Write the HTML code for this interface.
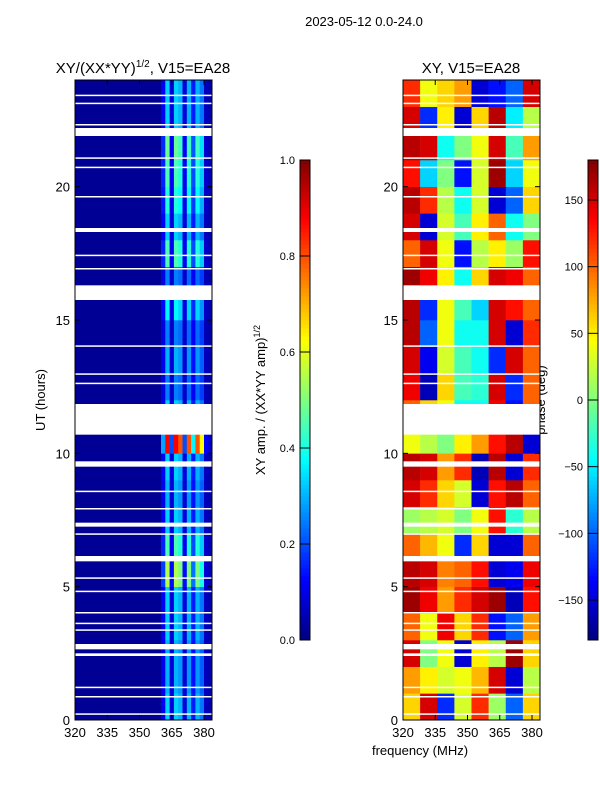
<!DOCTYPE html>
<html><head><meta charset="utf-8"><style>
html,body{margin:0;padding:0;background:#fff;}
svg{display:block;font-family:"Liberation Sans",sans-serif;}
</style></head><body>
<svg id="fig" width="600" height="800" viewBox="0 0 600 800" xmlns="http://www.w3.org/2000/svg">
<text x="364" y="26" font-size="13" text-anchor="middle">2023-05-12 0.0-24.0</text>
<text x="143" y="73" font-size="15" text-anchor="middle">XY/(XX*YY)<tspan font-size="10" dy="-6">1/2</tspan><tspan dy="6">, V15=EA28</tspan></text>
<text x="471" y="73" font-size="15" text-anchor="middle">XY, V15=EA28</text>
<text transform="translate(45,400) rotate(-90)" font-size="13" text-anchor="middle">UT (hours)</text>
<text x="420" y="755" font-size="13" text-anchor="middle">frequency (MHz)</text>
<text transform="translate(265,400) rotate(-90)" font-size="13" text-anchor="middle">XY amp. / (XX*YY amp)<tspan font-size="9" dy="-5">1/2</tspan></text>
<text transform="translate(545,400) rotate(-90)" font-size="13" text-anchor="middle">phase (deg)</text>
<g id="left"></g><g id="right"></g><g id="cb1"></g><g id="cb2"></g>
</svg>
<script>
// ---- data ----
const freqTicks=[320,335,350,365,380];
const timeTicks=[0,5,10,15,20];
const ampTicks=[0.0,0.2,0.4,0.6,0.8,1.0];
const phaseTicks=[-150,-100,-50,0,50,100,150];
// amplitude: per-hour level and per-2MHz column profile for 360-384 MHz
const ampColFreqs=[360,362,364,366,368,370,372,374,376,378,380,382];
const ampColProfile=[0.3,1.0,0.2,1.0,0.9,0.2,0.9,0.4,0.9,0.7,0.1,0.05];
const ampRowLevel=[0.3,0.27,0.27,0.3,0.3,0.52,0.42,0.3,0.27,0.3,0.85,0.3,0.22,0.27,0.22,0.34,0.22,0.42,0.3,0.38,0.42,0.45,0.3,0.3];
// phase grid: rows = hours 0..23, cols = 8 bins across 320-384 MHz
const phaseGrid=[
[60,150,-120,30,120,10,-100,60],
[80,50,30,40,70,150,-150,20],
[150,0,40,-150,50,20,170,60],
[100,40,140,60,120,-130,-100,80],
[170,140,80,120,150,170,-160,130],
[160,150,90,100,130,-150,-140,140],
[100,70,40,-120,60,-150,-150,100],
[10,20,30,0,40,130,-30,20],
[150,120,60,30,-150,130,160,100],
[160,150,80,120,-160,160,-150,120],
[40,20,0,50,80,130,160,-150],
[100,60,40,-40,-40,140,-130,100],
[140,-160,60,-20,-30,150,-120,100],
[150,-140,30,-20,-40,-120,150,100],
[160,-100,40,-40,-40,150,-150,120],
[160,-120,40,-20,-60,150,130,100],
[170,140,50,-40,60,150,140,100],
[100,150,40,-130,20,50,10,130],
[150,-150,30,-20,50,100,-40,0],
[160,120,20,-40,30,-150,-100,60],
[130,-60,0,-130,30,170,-60,40],
[160,150,-40,0,40,150,-20,80],
[150,-120,50,-150,60,160,-50,20],
[120,40,60,80,-150,-130,-100,150]];
// flagged (white) rows: [start hour, end hour]
const flagged=[[0.2,0.25],[0.85,0.9],[1.2,1.25],[2.4,2.5],[2.65,2.85],[3.35,3.4],[3.6,3.65],[4.0,4.05],[4.8,4.85],[5.3,5.35],[5.95,6.15],[6.95,7.0],[7.25,7.4],[7.9,7.95],[8.55,8.6],[9.5,9.7],[10.7,11.85],[12.6,12.65],[12.95,13.0],[14.0,14.05],[15.75,16.3],[16.9,16.95],[17.4,17.45],[18.3,18.45],[19.6,19.65],[20.7,20.75],[21.05,21.1],[21.9,22.2],[22.3,22.35],[23.1,23.15],[23.4,23.45]];
// ---- helpers ----
const NS="http://www.w3.org/2000/svg";
function mk(tag,attrs,parent){const e=document.createElementNS(NS,tag);for(const k in attrs)e.setAttribute(k,attrs[k]);parent.appendChild(e);return e;}
function jet(v){v=Math.max(0,Math.min(1,v));
 const r=Math.min(1,Math.max(0,1.5-Math.abs(4*v-3))),g=Math.min(1,Math.max(0,1.5-Math.abs(4*v-2))),b=Math.min(1,Math.max(0,1.5-Math.abs(4*v-1)));
 return `rgb(${Math.round(r*255)},${Math.round(g*255)},${Math.round(b*255)})`;}
const Y0=720,Y1=80,PW=137;
const yS=h=>Y0-(h/24)*(Y0-Y1);
function xS(x0){return f=>x0+(f-320)*(129/60);}
const FMAX=320+PW*60/129;
function axes(g,x0,name){
 const x=xS(x0);
 for(const f of freqTicks){
  const t=mk('line',{x1:x(f),x2:x(f),y1:Y0,y2:Y0-5,stroke:'#000'},g);
  
  mk('line',{x1:x(f),x2:x(f),y1:Y1,y2:Y1+5,stroke:'#000'},g);
  const l=mk('text',{x:x(f),y:Y0+17,'font-size':13,'text-anchor':'middle'},g);l.textContent=f;
  
 }
 for(const h of timeTicks){
  mk('line',{x1:x0,x2:x0+5,y1:yS(h),y2:yS(h),stroke:'#000'},g);
  mk('line',{x1:x0+PW,x2:x0+PW-5,y1:yS(h),y2:yS(h),stroke:'#000'},g);
  const l=mk('text',{x:x0-5,y:yS(h)+5,'font-size':13,'text-anchor':'end'},g);l.textContent=h;
  
 }
 const fr=mk('rect',{x:x0,y:Y1,width:PW,height:Y0-Y1,fill:'none',stroke:'#000','stroke-width':1},g);
 
}
function flags(g,x0){for(const [a,b] of flagged){const r=mk('rect',{x:x0,y:yS(b),width:PW,height:Math.max(1.5,yS(a)-yS(b)),fill:'#fff'},g);
 }}
// ---- left amplitude heatmap ----
(function(){
 const g=document.getElementById('left');
 const x=xS(75);
 const bg=mk('rect',{x:75,y:Y1,width:x(360)-75,height:Y0-Y1,fill:jet(0.02)},g);
 
 for(let h=0;h<ampRowLevel.length;h++){
  for(let c=0;c<ampColFreqs.length;c++){
   const f0=ampColFreqs[c],f1=Math.min(FMAX,f0+2);
   const v=0.03+ampRowLevel[h]*ampColProfile[c];
   const r=mk('rect',{x:x(f0),y:yS(h+1),width:x(f1)-x(f0)+0.3,height:yS(h)-yS(h+1)+0.3,fill:jet(v)},g);
   
  }
 }
 flags(g,75);axes(g,75,'left');
})();
// ---- right phase heatmap ----
(function(){
 const g=document.getElementById('right');
 const x=xS(403);const nc=phaseGrid[0].length,bw=(FMAX-320)/nc;
 for(let h=0;h<phaseGrid.length;h++)for(let c=0;c<nc;c++){
  const f0=320+c*bw;
  const r=mk('rect',{x:x(f0),y:yS(h+1),width:x(f0+bw)-x(f0)+0.3,height:yS(h)-yS(h+1)+0.3,fill:jet((phaseGrid[h][c]+180)/360)},g);
  
 }
 flags(g,403);axes(g,403,'right');
})();
// ---- colorbars ----
function colorbar(id,x0,lo,hi,ticks,fmt,name){
 const g=document.getElementById(id);
 const top=160,bot=640,n=120;
 for(let i=0;i<n;i++){mk('rect',{x:x0,y:bot-(i+1)*(bot-top)/n,width:10,height:(bot-top)/n+0.5,fill:jet((i+0.5)/n)},g);}
 mk('rect',{x:x0,y:top,width:10,height:bot-top,fill:'none',stroke:'#000'},g);
 for(const t of ticks){const y=bot-(t-lo)/(hi-lo)*(bot-top);
  mk('line',{x1:x0,x2:x0+10,y1:y,y2:y,stroke:'#000'},g);
  const l=mk('text',{x:x0-5,y:y+4,'font-size':11,'text-anchor':'end'},g);l.textContent=fmt(t);
  }
}
colorbar('cb1',300,0,1,ampTicks,t=>t.toFixed(1),'amplitude-colorbar');
colorbar('cb2',588,-180,180,phaseTicks,t=>String(t).replace('-','\u2212'),'phase-colorbar');
</script>
</body></html>
